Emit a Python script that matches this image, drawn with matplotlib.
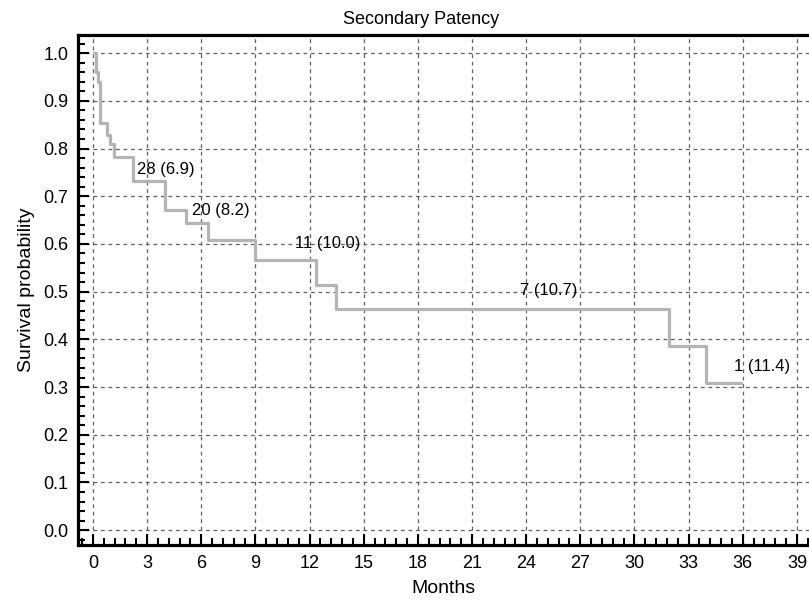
import matplotlib
matplotlib.use('Agg')
import matplotlib.pyplot as plt
import numpy as np
from matplotlib.ticker import MultipleLocator

plt.rcParams['font.family'] = ['Liberation Sans', 'DejaVu Sans']

# Kaplan-Meier step curve (months, survival)
months = [0.05, 0.15, 0.26, 0.39, 0.76, 0.94, 1.17, 2.2, 4.0, 5.15, 6.4, 9.0, 12.35, 13.45, 31.9, 33.95, 35.9]
survival = [1.0, 0.961, 0.94, 0.853, 0.828, 0.81, 0.783, 0.732, 0.671, 0.643, 0.609, 0.566, 0.513, 0.464, 0.386, 0.308, 0.308]

# number at risk (std. error) labels
label_text = ['28 (6.9)', '20 (8.2)', '11 (10.0)', '7 (10.7)', '1 (11.4)']
label_x = [2.45, 5.5, 11.2, 23.65, 35.5]
label_y = [0.757, 0.671, 0.601, 0.503, 0.343]

fig = plt.figure(figsize=(8.09, 6.05), dpi=100)
ax = fig.add_axes([0.0964, 0.0992, 0.9036, 0.8430])

ax.step(months, survival, where='post', color='#b4b4b4', lw=2.3, zorder=3)

for t, x, y in zip(label_text, label_x, label_y):
    ax.text(x, y, t, fontsize=12, ha='left', va='center', color='black', zorder=4)

ax.set_xlim(-0.83, 39.67)
ax.set_ylim(-0.031, 1.038)
ax.xaxis.set_major_locator(MultipleLocator(3))
ax.xaxis.set_minor_locator(MultipleLocator(0.6))
ax.yaxis.set_major_locator(MultipleLocator(0.1))
ax.yaxis.set_minor_locator(MultipleLocator(0.02))
ax.yaxis.set_major_formatter(matplotlib.ticker.FormatStrFormatter('%.1f'))

ax.grid(True, which='major', color='#606060', linestyle=(0, (3, 3)), lw=0.9)
ax.tick_params(which='both', direction='in', top=False, right=False, labelsize=13, width=1.5, color='black')
ax.tick_params(which='major', length=8, pad=7)
ax.tick_params(which='minor', length=5)

for s in ['top', 'left', 'bottom']:
    ax.spines[s].set_linewidth(2.3)
ax.spines['right'].set_visible(False)

# title sits a bit left of the axes centre in the original
fig.text(0.52, 0.967, 'Secondary Patency', fontsize=13, ha='center', va='center')
ax.set_xlabel('Months', fontsize=14, labelpad=6)
ax.set_ylabel('Survival probability', fontsize=14, labelpad=6)

fig.savefig('out.png', dpi=100)
